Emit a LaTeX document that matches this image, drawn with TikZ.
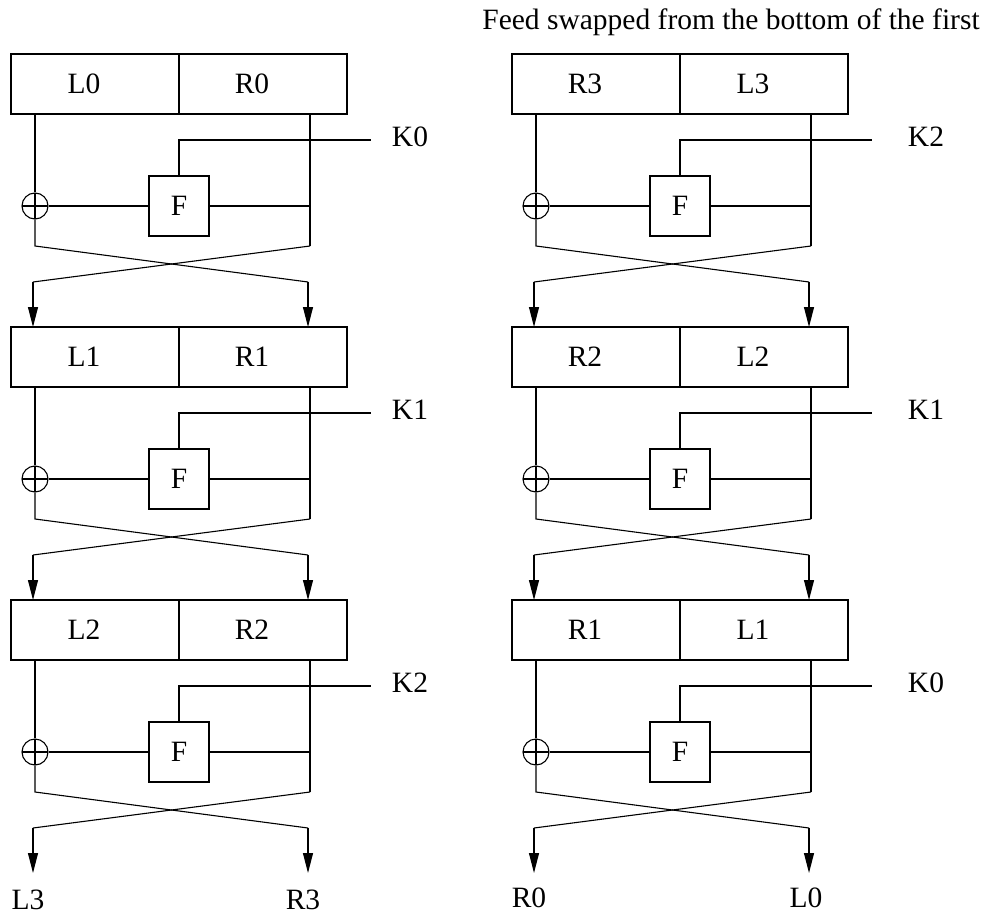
\documentclass[tikz,border=0pt]{standalone}
\usepackage{fontspec}
\setmainfont{Liberation Serif}
\usetikzlibrary{arrows.meta, positioning}

\begin{document}
\begin{tikzpicture}[x=1pt, y=-1pt, line width=1.1pt, font=\fontsize{29.5}{34}\selectfont,
    >={Triangle[length=20pt, width=10pt]},
    half/.style={draw, rectangle, minimum width=168pt, minimum height=60pt, inner sep=0pt},
    fbox/.style={draw, rectangle, minimum size=60pt, inner sep=0pt},
    xor/.style={draw, circle, minimum size=26pt, inner sep=0pt,
        path picture={\draw (path picture bounding box.north) -- (path picture bounding box.south)
            (path picture bounding box.west) -- (path picture bounding box.east);}}]
    \useasboundingbox (0,0) rectangle (984,917);
    % 标题
    \node (title) at (731,22) {Feed swapped from the bottom of the first};
    % 每一轮: 方框, F, 异或, 密钥
    \foreach \xo/\yo/\lt/\rt/\k/\kx [count=\i] in
        {0/54/L0/R0/K0/410, 0/327/L1/R1/K1/410, 0/600/L2/R2/K2/410,
         501/54/R3/L3/K2/926, 501/327/R2/L2/K1/926, 501/600/R1/L1/K0/926} {
        \node[half] (lh\i) at (\xo+95,\yo+30) {};
        \node[half] (rh\i) at (\xo+263,\yo+30) {};
        \node (lt\i) at (\xo+84,\yo+30) {\lt};
        \node (rt\i) at (\xo+252,\yo+30) {\rt};
        \node[fbox] (F\i) at (\xo+179,\yo+152) {F};
        \node[xor] (X\i) at (\xo+35,\yo+152) {};
        \node (K\i) at (\kx,\yo+83) {\k};
        \coordinate (kt\i) at (\xo+371,\yo+86);
        \coordinate (cl\i) at (\xo+35,\yo+192);
        \coordinate (cr\i) at (\xo+310,\yo+192);
        \coordinate (dl\i) at (\xo+33,\yo+228);
        \coordinate (dr\i) at (\xo+308,\yo+228);
        \coordinate (el\i) at (\xo+33,\yo+273);
        \coordinate (er\i) at (\xo+308,\yo+273);
        % 连线
        \draw (lh\i.south -| X\i) -- (X\i.north);
        \draw (rh\i.south -| cr\i) -- (cr\i);
        \draw (F\i.west) -- (X\i.east);
        \draw (F\i.east) -- (F\i.east -| cr\i);
        \draw (F\i.north) |- (kt\i);
        % 交叉
        \draw (X\i.south) -- (cl\i) -- (dr\i);
        \draw (cr\i) -- (dl\i);
        \draw[->] (dl\i) -- (el\i);
        \draw[->] (dr\i) -- (er\i);
    }
    % 输出
    \node (outL3) at (28,900) {L3};
    \node (outR3) at (303,900) {R3};
    \node (outR0) at (529,898) {R0};
    \node (outL0) at (806,898) {L0};
\end{tikzpicture}
\end{document}
